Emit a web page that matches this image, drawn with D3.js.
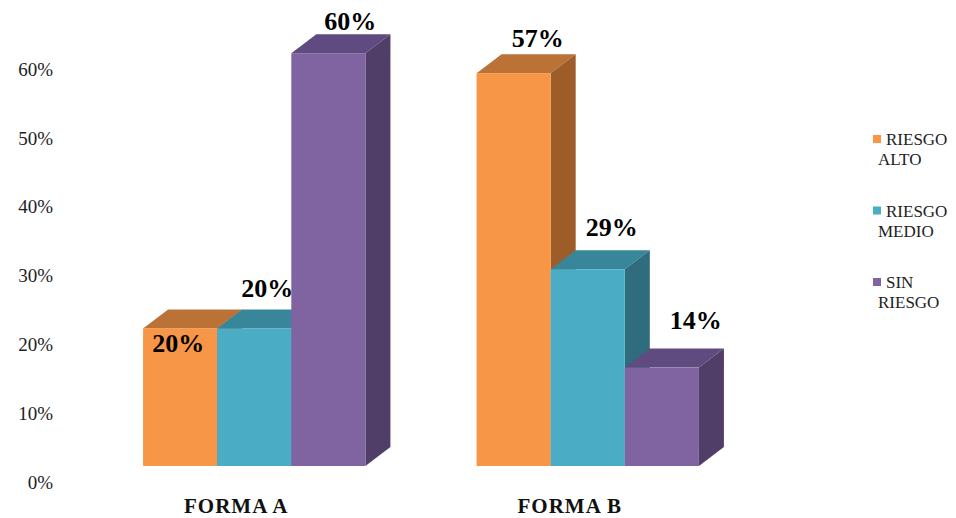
<!DOCTYPE html>
<html>
<head>
<meta charset="utf-8">
<script src="https://cdn.jsdelivr.net/npm/d3@7"></script>
<style>
  body { margin: 0; background: #fff; }
  svg text, svg tspan { font-family: "Liberation Serif", "Times New Roman", Times, serif !important; }
</style>
</head>
<body>
<script>
// values (Forma A: n=5, Forma B: n=7)
const categories = ['FORMA A', 'FORMA B'];
const seriesNames = ['RIESGO ALTO', 'RIESGO MEDIO', 'SIN RIESGO'];
const riesgoAlto = [20, 57.1];
const riesgoMedio = [20, 28.6];
const sinRiesgo = [60, 14.3];
const yTicks = [0, 10, 20, 30, 40, 50, 60];

const seriesValues = [riesgoAlto, riesgoMedio, sinRiesgo];

const W = 956, H = 518;
const DEPTH = { dx: 25, dy: -19 };
const SERIF = '"Liberation Serif", "Times New Roman", Times, serif';

// face colours per series: front, top, side
const COLORS = [
    { front: '#F79646', top: '#BA7236', side: '#9E5C28' },
    { front: '#4BACC6', top: '#38869A', side: '#2F6C7D' },
    { front: '#8064A2', top: '#5F4B80', side: '#503E68' }
];

// Excel had its data labels moved by hand, so nudge them a bit
const labelShift = [
    [[-27, 43], [-1, -7]],
    [[-12, -12], [-1, -14]],
    [[-3, -4], [9, -20]]
];

const svg = d3.select('body').append('svg')
    .attr('width', W)
    .attr('height', H)
    .style('font-family', SERIF);

const yScale = d3.scaleLinear()
    .domain([0, 60])
    .range([466, 53.2]);

const xScale = d3.scaleBand()
    .domain(categories)
    .range([87.5, 754.5])
    .paddingInner(1 / 3)
    .paddingOuter(1 / 6);

const xInner = d3.scaleBand()
    .domain(seriesNames)
    .range([0, xScale.bandwidth()])
    .padding(0);

// y axis: tick labels only
const yAxis = d3.axisLeft(yScale)
    .tickValues(yTicks)
    .tickFormat(d => d + '%')
    .tickSize(0)
    .tickPadding(0);

const yAxisGroup = svg.append('g')
    .attr('transform', 'translate(53, 16)')
    .call(yAxis)
    .attr('font-family', SERIF)
    .attr('font-size', 19);
yAxisGroup.select('.domain').remove();
yAxisGroup.selectAll('text')
    .style('font-family', SERIF)
    .style('font-size', '19px')
    .attr('fill', '#222');

// build the bars, one entry per series x category
const bars = [];
categories.forEach((cat, ci) => {
    seriesNames.forEach((s, si) => {
        bars.push({ cat, ci, series: s, si, value: seriesValues[si][ci] });
    });
});

const barGroup = svg.append('g');

const pts = arr => arr.map(p => p.join(',')).join(' ');

bars.forEach(d => {
    const x0 = xScale(d.cat) + xInner(d.series);
    const x1 = x0 + xInner.bandwidth();
    const yTop = yScale(d.value);
    const yBase = yScale(0);
    const c = COLORS[d.si];
    const g = barGroup.append('g');

    g.append('polygon')
        .attr('points', pts([[x0, yTop], [x1, yTop], [x1 + DEPTH.dx, yTop + DEPTH.dy], [x0 + DEPTH.dx, yTop + DEPTH.dy]]))
        .attr('fill', c.top);
    g.append('polygon')
        .attr('points', pts([[x1, yTop], [x1 + DEPTH.dx, yTop + DEPTH.dy], [x1 + DEPTH.dx, yBase + DEPTH.dy], [x1, yBase]]))
        .attr('fill', c.side);
    g.append('rect')
        .attr('x', x0)
        .attr('y', yTop)
        .attr('width', x1 - x0)
        .attr('height', yBase - yTop)
        .attr('fill', c.front);
});

// data labels
svg.append('g').selectAll('text')
    .data(bars)
    .enter().append('text')
    .attr('x', d => xScale(d.cat) + xInner(d.series) + xInner.bandwidth() / 2 + DEPTH.dx + labelShift[d.si][d.ci][0])
    .attr('y', d => yScale(d.value) + DEPTH.dy + labelShift[d.si][d.ci][1])
    .attr('text-anchor', 'middle')
    .style('font-family', SERIF)
    .style('font-size', '26px')
    .style('font-weight', 'bold')
    .attr('fill', '#000')
    .text(d => Math.round(d.value) + '%');

// category labels
svg.append('g').selectAll('text')
    .data(categories)
    .enter().append('text')
    .attr('x', d => xScale(d) + xScale.bandwidth() / 2 - 18)
    .attr('y', 513)
    .attr('text-anchor', 'middle')
    .style('font-family', SERIF)
    .style('font-size', '21px')
    .style('font-weight', 'bold')
    .attr('letter-spacing', 1)
    .attr('fill', '#111')
    .text(d => d);

// legend
const legend = svg.append('g')
    .attr('transform', 'translate(873, 145)');

const legendItems = legend.selectAll('g')
    .data(seriesNames)
    .enter().append('g')
    .attr('transform', (d, i) => `translate(0, ${i * 71.5})`);

legendItems.append('rect')
    .attr('x', 0)
    .attr('y', -10)
    .attr('width', 8)
    .attr('height', 8)
    .attr('fill', (d, i) => COLORS[i].front);

legendItems.append('text')
    .attr('x', 13)
    .attr('y', 0)
    .style('font-family', SERIF)
    .style('font-size', '17px')
    .attr('fill', '#222')
    .selectAll('tspan')
    .data(d => d.split(' '))
    .enter().append('tspan')
    .attr('x', (d, i) => i === 0 ? 13 : 5)
    .attr('dy', (d, i) => i === 0 ? 0 : 20)
    .text(d => d);
</script>
</body>
</html>
